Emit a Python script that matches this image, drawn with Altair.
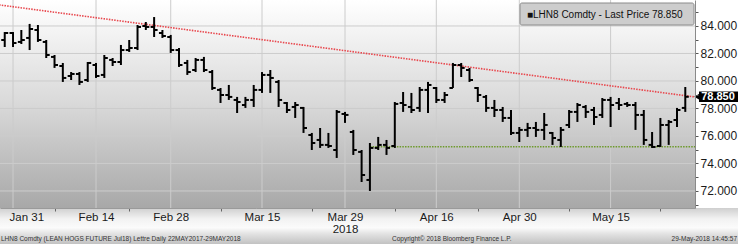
import altair as alt
import pandas as pd

# ---------------- data ----------------
dates = [
    "2018-01-30", "2018-01-31",
    "2018-02-01", "2018-02-02", "2018-02-05", "2018-02-06", "2018-02-07", "2018-02-08", "2018-02-09",
    "2018-02-12", "2018-02-13", "2018-02-14", "2018-02-15", "2018-02-16", "2018-02-20", "2018-02-21",
    "2018-02-22", "2018-02-23", "2018-02-26", "2018-02-27", "2018-02-28",
    "2018-03-01", "2018-03-02", "2018-03-05", "2018-03-06", "2018-03-07", "2018-03-08", "2018-03-09",
    "2018-03-12", "2018-03-13", "2018-03-14", "2018-03-15", "2018-03-16", "2018-03-19", "2018-03-20",
    "2018-03-21", "2018-03-22", "2018-03-23", "2018-03-26", "2018-03-27", "2018-03-28", "2018-03-29",
    "2018-04-02", "2018-04-03", "2018-04-04", "2018-04-05", "2018-04-06", "2018-04-09", "2018-04-10",
    "2018-04-11", "2018-04-12", "2018-04-13", "2018-04-16", "2018-04-17", "2018-04-18", "2018-04-19",
    "2018-04-20", "2018-04-23", "2018-04-24", "2018-04-25", "2018-04-26", "2018-04-27", "2018-04-30",
    "2018-05-01", "2018-05-02", "2018-05-03", "2018-05-04", "2018-05-07", "2018-05-08", "2018-05-09",
    "2018-05-10", "2018-05-11", "2018-05-14", "2018-05-15", "2018-05-16", "2018-05-17", "2018-05-18",
    "2018-05-21", "2018-05-22", "2018-05-23", "2018-05-24", "2018-05-25", "2018-05-29",
]
highs = [83.56, 83.56, 83.71, 84.15, 84.07, 82.98, 81.89, 81.31, 80.65, 80.65,
         81.38, 81.31, 81.89, 81.67, 82.62, 82.98, 84.07, 84.29, 84.65, 83.71,
         83.35, 82.40, 81.53, 81.67, 81.75, 80.80, 79.49, 79.71, 78.84, 78.84,
         79.71, 80.65, 80.80, 80.07, 78.47, 78.47, 78.11, 76.22, 76.58, 76.22,
         77.89, 77.75, 76.44, 74.98, 75.49, 75.93, 75.71, 78.47, 79.20, 79.13,
         79.56, 79.93, 79.56, 79.20, 81.31, 81.31, 80.95, 79.56, 78.98, 78.62,
         78.11, 77.89, 76.65, 76.95, 77.02, 77.67, 76.29, 76.65, 77.89, 78.40,
         78.25, 78.11, 78.76, 78.84, 78.76, 78.47, 78.47, 77.89, 76.29, 77.31,
         77.16, 78.04, 79.56]
lows = [82.47, 82.47, 82.69, 82.25, 82.84, 81.67, 80.95, 79.93, 80.07, 79.71,
        79.93, 80.22, 80.22, 81.09, 81.16, 82.11, 82.25, 83.71, 83.20, 83.13,
        82.04, 81.02, 80.44, 80.65, 80.65, 79.35, 78.40, 78.62, 77.67, 78.04,
        78.11, 79.13, 79.13, 78.11, 77.67, 77.31, 76.22, 74.98, 75.13, 75.13,
        74.40, 76.95, 74.62, 72.65, 72.00, 74.98, 74.62, 75.13, 77.75, 77.67,
        77.75, 77.67, 78.40, 78.40, 79.49, 80.29, 79.93, 78.47, 77.75, 77.38,
        77.02, 76.07, 75.56, 75.93, 75.93, 75.71, 75.35, 75.20, 76.58, 77.02,
        77.31, 76.80, 77.31, 76.65, 77.89, 78.11, 76.44, 75.35, 75.13, 75.20,
        75.35, 76.65, 77.75]
opens = [82.98, 83.49, 82.84, 83.13, 83.71, 82.84, 81.75, 81.09, 80.36, 80.51,
         80.07, 81.16, 80.44, 81.53, 81.38, 82.25, 82.40, 84.00, 83.93, 83.49,
         83.20, 82.25, 81.31, 80.80, 81.53, 80.65, 79.35, 78.98, 78.62, 78.25,
         78.62, 79.35, 80.44, 79.93, 78.40, 78.11, 78.04, 76.07, 75.71, 75.35,
         74.98, 77.60, 76.29, 74.84, 72.80, 75.13, 75.35, 75.27, 78.40, 78.11,
         78.04, 79.35, 79.49, 78.62, 79.49, 81.16, 80.80, 79.49, 78.84, 78.04,
         77.89, 77.31, 76.22, 76.44, 76.58, 76.44, 76.22, 75.71, 76.80, 77.75,
         78.11, 77.89, 77.53, 78.62, 78.40, 78.33, 78.25, 77.53, 75.35, 75.27,
         76.80, 77.16, 78.04]
closes = [83.49, 82.76, 82.98, 83.78, 82.98, 81.89, 81.16, 80.22, 80.51, 79.93,
          81.31, 80.36, 81.67, 81.38, 82.25, 82.40, 83.93, 83.93, 83.71, 83.27,
          82.25, 81.16, 80.65, 81.53, 80.80, 79.49, 78.98, 78.84, 78.47, 78.62,
          79.35, 80.44, 80.22, 78.62, 77.89, 78.25, 76.58, 75.49, 75.35, 75.27,
          77.75, 77.53, 74.98, 73.16, 75.13, 75.35, 75.13, 78.33, 78.25, 77.89,
          79.35, 79.71, 78.62, 78.98, 81.16, 80.95, 80.07, 78.98, 78.04, 77.89,
          77.31, 76.22, 76.44, 76.58, 76.44, 76.80, 75.85, 76.44, 77.75, 78.25,
          77.75, 77.38, 78.62, 78.25, 78.25, 78.25, 77.53, 75.71, 75.20, 76.80,
          77.02, 77.89, 78.85]

tick_dates = ["2018-01-31", "2018-02-14", "2018-02-28", "2018-03-15",
              "2018-03-29", "2018-04-16", "2018-04-30", "2018-05-15"]
tick_labels = ["Jan 31", "Feb 14", "Feb 28", "Mar 15",
               "Mar 29", "Apr 16", "Apr 30", "May 15"]
year_label_date = "2018-03-29"
year_label = "2018"
minor_tick_dates = ["2018-02-07", "2018-02-21", "2018-03-08", "2018-03-23",
                    "2018-04-09", "2018-04-23", "2018-05-08", "2018-05-23"]
y_major = [72, 74, 76, 78, 80, 82, 84]
y_all = [71, 72, 73, 74, 75, 76, 77, 78, 79, 80, 81, 82, 83, 84, 85]

trend_idx = [-1.0, 84.0]          # resistance line (trading-day index)
trend_price = [85.56, 78.77]
support_start = "2018-04-04"
support_price = 75.22

ticker = "LHN8 Comdty"
footer_left = "LHN8 Comdty (LEAN HOGS FUTURE  Jul18) Lettre  Daily 22MAY2017-29MAY2018"
footer_mid = "Copyright\u00a9 2018 Bloomberg Finance L.P."
footer_right = "29-May-2018 14:45:57"

# ---------------- layout ----------------
W, H = 695, 208
FONT = "Liberation Sans"
x_dom = [-0.57, 83.17]
y_dom = [70.76, 85.89]

df = pd.DataFrame({"i": list(range(len(dates))), "date": dates,
                   "open": opens, "high": highs, "low": lows, "close": closes})
major_idx = [dates.index(d) for d in tick_dates]
minor_idx = [dates.index(d) for d in minor_tick_dates]
year_idx = dates.index(year_label_date)

parts = []
for i, lab in zip(major_idx, tick_labels):
    if i == year_idx:
        parts.append(f"datum.value == {i} ? ['{lab}', '{year_label}'] : ")
    else:
        parts.append(f"datum.value == {i} ? '{lab}' : ")
x_label_expr = "".join(parts) + "''"
major_test = " || ".join(f"datum.value == {i}" for i in major_idx)

xs = alt.Scale(domain=x_dom, nice=False, zero=False)
ys = alt.Scale(domain=y_dom, nice=False, zero=False)

x_axis = alt.Axis(values=major_idx + minor_idx, labelExpr=x_label_expr, grid=False,
                  tickSize=3, tickColor="#666666",
                  tickOpacity={"condition": {"test": major_test, "value": 0}, "value": 1},
                  labelFont=FONT, labelFontSize=11.5, labelColor="#1a1a1a",
                  labelPadding=0, labelAngle=0, labelOverlap=False,
                  labelFlush=20, labelFlushOffset=4, labelLineHeight=12,
                  domainColor="#9a9a9a", title=None, zindex=1)
y_axis = alt.Axis(orient="right", values=y_all,
                  labelExpr="datum.value % 2 == 0 ? format(datum.value, '.3f') : ''",
                  grid=False, tickSize=3, tickColor="#555555",
                  labelFont=FONT, labelFontSize=12, labelColor="#1a1a1a",
                  labelPadding=2, domainColor="#8a8a8a", title=None, zindex=1)


def X(f):
    return alt.X(f, scale=xs, axis=x_axis)


def Y(f):
    return alt.Y(f, scale=ys, axis=y_axis)


one = pd.DataFrame({"a": [0]})

plot_bg = alt.Chart(one).mark_rect(
    fill=alt.Gradient(gradient="linear",
                      stops=[alt.GradientStop(color="#ffffff", offset=0),
                             alt.GradientStop(color="#d9d9d9", offset=0.5),
                             alt.GradientStop(color="#a8a8a8", offset=1)],
                      x1=0, x2=0, y1=0, y2=1)
).encode(x=alt.value(0), x2=alt.value(W), y=alt.value(0), y2=alt.value(H))

bottom_bg = alt.Chart(one).mark_rect(
    fill=alt.Gradient(gradient="linear",
                      stops=[alt.GradientStop(color="#cfcfcf", offset=0),
                             alt.GradientStop(color="#f2f2f2", offset=0.3),
                             alt.GradientStop(color="#fbfbfb", offset=0.55),
                             alt.GradientStop(color="#e2e2e2", offset=0.72),
                             alt.GradientStop(color="#c2c2c2", offset=1)],
                      x1=0, x2=0, y1=0, y2=1)
).encode(x=alt.value(0), x2=alt.value(738), y=alt.value(H), y2=alt.value(244))

vgrid = alt.Chart(pd.DataFrame({"i": major_idx})).mark_rule(
    color="#cccccc", strokeWidth=1
).encode(x=X("i:Q"), y=alt.value(0), y2=alt.value(H))

hgrid = alt.Chart(pd.DataFrame({"p": y_major})).mark_rule(
    color="#cccccc", strokeWidth=1
).encode(y=Y("p:Q"), x=alt.value(0), x2=alt.value(W))

trend = alt.Chart(pd.DataFrame({"i": trend_idx, "p": trend_price})).mark_line(
    color="#e8474d", strokeWidth=1.6, strokeDash=[1.5, 1.2], clip=True
).encode(x=X("i:Q"), y=Y("p:Q"))

sup_df = pd.DataFrame({"i": [dates.index(support_start), x_dom[1]],
                       "p": [support_price, support_price]})
support = alt.Chart(sup_df).mark_line(
    color="#6e9a2c", strokeWidth=1.6, strokeDash=[1.5, 1.2], clip=True
).encode(x=X("i:Q"), y=Y("p:Q"))

base = alt.Chart(df).transform_calculate(
    il="datum.i - 0.42", ir="datum.i + 0.42")

stems = base.mark_rule(color="#000000", strokeWidth=2).encode(
    x=X("i:Q"), y=Y("low:Q"), y2="high:Q")
open_t = base.mark_rule(color="#000000", strokeWidth=2).encode(
    x=X("il:Q"), x2="i:Q", y=Y("open:Q"))
close_t = base.mark_rule(color="#000000", strokeWidth=2).encode(
    x=X("i:Q"), x2="ir:Q", y=Y("close:Q"))

last = closes[-1]
legend_text = f"\u25a0{ticker} - Last Price {last:.3f}"
legend_box = alt.Chart(one).mark_rect(
    fill="#cdcdcd", stroke="#8c8c8c", strokeWidth=1, cornerRadius=2
).encode(x=alt.value(520), x2=alt.value(694), y=alt.value(3), y2=alt.value(25))
legend_lbl = alt.Chart(one).mark_text(
    align="left", baseline="middle", font=FONT, fontSize=10, color="#111111"
).encode(x=alt.value(527), y=alt.value(14.5), text=alt.value(legend_text))

lp = pd.DataFrame({"p": [last], "t": [f"{last:.3f}"]})
lp_base = alt.Chart(lp).transform_calculate(top="datum.p + 0.38", bot="datum.p - 0.38")
lp_box = lp_base.mark_rect(color="#000000").encode(
    x=alt.value(699), x2=alt.value(738), y=Y("top:Q"), y2="bot:Q")
lp_tri = lp_base.mark_point(shape="triangle-left", filled=True, size=40,
                            color="#000000", opacity=1).encode(
    x=alt.value(697), y=Y("p:Q"))
lp_txt = lp_base.mark_text(align="center", baseline="middle", font=FONT,
                           fontSize=11, fontWeight="bold", color="#ffffff").encode(
    x=alt.value(718), y=Y("p:Q"), text="t:N")


def foot(txt, x, align):
    return alt.Chart(one).mark_text(
        align=align, baseline="middle", font=FONT, fontSize=6.5, color="#333333"
    ).encode(x=alt.value(x), y=alt.value(239), text=alt.value(txt))


chart = alt.layer(
    plot_bg, bottom_bg, vgrid, hgrid, trend, support,
    stems, open_t, close_t,
    legend_box, legend_lbl, lp_box, lp_tri, lp_txt,
    foot(footer_left, 1, "left"), foot(footer_mid, 392, "left"),
    foot(footer_right, 737, "right"),
).properties(
    width=W, height=H,
    padding={"left": 0, "top": 0, "right": 43, "bottom": 36},
    autosize=alt.AutoSizeParams(type="none"),
    background="#ffffff",
).configure_view(stroke=None)

chart.save("out.html", embed_options={"renderer": "svg", "actions": False})
